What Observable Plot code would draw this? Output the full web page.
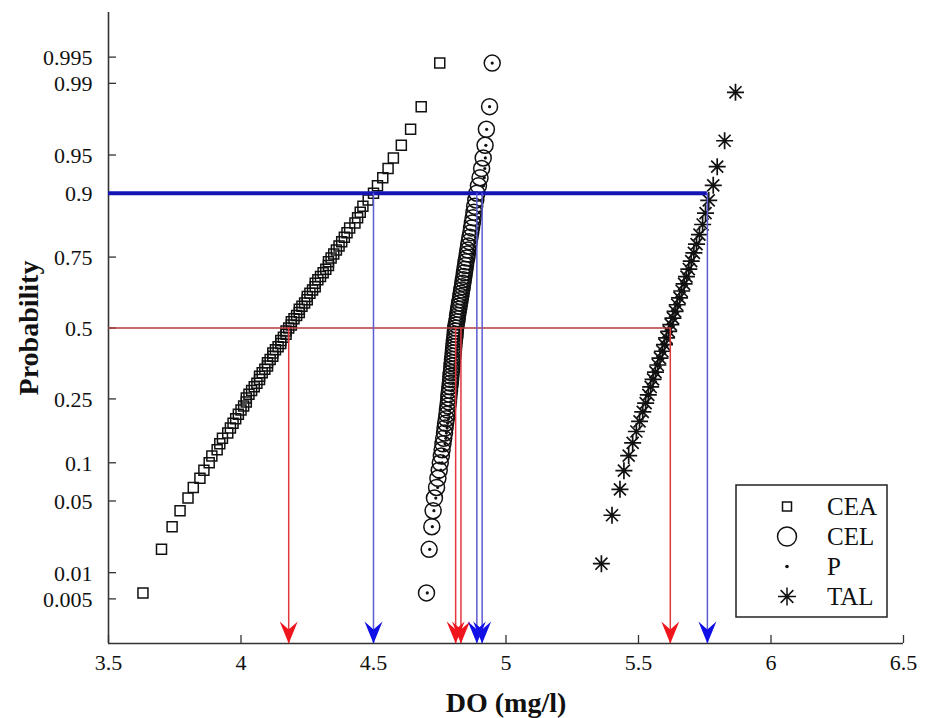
<!DOCTYPE html>
<html>
<head>
<meta charset="utf-8">
<script src="https://cdn.jsdelivr.net/npm/d3@7"></script>
<script src="https://cdn.jsdelivr.net/npm/@observablehq/plot@0.6"></script>
<style>
  html, body { margin: 0; padding: 0; background: #fff; }
  #chart { width: 930px; height: 718px; }
</style>
</head>
<body>
<div id="chart"></div>
<script>
// Dissolved oxygen (mg/l), sorted, per sampling group
const ceaValues = [
  3.63, 3.70, 3.74, 3.77, 3.80, 3.82, 3.845, 3.86, 3.88,
  3.89, 3.91, 3.92, 3.93, 3.95, 3.96, 3.97, 3.98, 3.99, 4.00,
  4.01, 4.02, 4.02, 4.03, 4.04, 4.05, 4.06, 4.07, 4.07, 4.08,
  4.09, 4.10, 4.10, 4.11, 4.12, 4.12, 4.13, 4.14, 4.15, 4.15,
  4.16, 4.17, 4.17, 4.18,
  4.19, 4.19, 4.20, 4.21, 4.22, 4.22, 4.23, 4.24, 4.25, 4.25,
  4.26, 4.27, 4.28, 4.28, 4.29, 4.30, 4.31, 4.32, 4.33, 4.33,
  4.34, 4.35, 4.36, 4.37, 4.38, 4.39, 4.40, 4.41, 4.43, 4.44,
  4.45, 4.46, 4.48,
  4.50, 4.515, 4.535, 4.555, 4.575, 4.605, 4.64, 4.68, 4.75
];
const celValues = [
  4.700, 4.710, 4.720, 4.725, 4.730, 4.738, 4.743, 4.748, 4.752, 4.756,
  4.759, 4.762, 4.765, 4.768, 4.770, 4.772, 4.775, 4.777, 4.779, 4.781,
  4.783, 4.784, 4.785, 4.787, 4.788, 4.790, 4.791, 4.792, 4.793, 4.795,
  4.796, 4.797, 4.798, 4.800, 4.801, 4.802, 4.803, 4.804, 4.805, 4.807,
  4.808, 4.809, 4.810,
  4.812, 4.814, 4.816, 4.817, 4.819, 4.821, 4.823, 4.825, 4.827, 4.829,
  4.831, 4.833, 4.835, 4.837, 4.839, 4.841, 4.843, 4.845, 4.847, 4.849,
  4.852, 4.854, 4.856, 4.859, 4.861, 4.864, 4.867, 4.870, 4.873, 4.876,
  4.879, 4.882, 4.886, 4.890, 4.896, 4.902, 4.908, 4.914, 4.921, 4.926,
  4.938, 4.948
];
const pValues = [
  4.703, 4.712, 4.722, 4.728, 4.735, 4.742, 4.748, 4.754, 4.759, 4.764,
  4.767, 4.770, 4.773, 4.775, 4.778, 4.780, 4.783, 4.785, 4.787, 4.789,
  4.791, 4.793, 4.795, 4.797, 4.799, 4.800, 4.802, 4.804, 4.806, 4.807,
  4.809, 4.811, 4.812, 4.814, 4.815, 4.817, 4.819, 4.820, 4.822, 4.823,
  4.825, 4.826, 4.828,
  4.830, 4.832, 4.834, 4.836, 4.838, 4.840, 4.842, 4.844, 4.846, 4.848,
  4.850, 4.852, 4.854, 4.856, 4.858, 4.860, 4.862, 4.865, 4.867, 4.869,
  4.872, 4.874, 4.877, 4.879, 4.882, 4.885, 4.887, 4.890, 4.894, 4.897,
  4.900, 4.904, 4.908, 4.912, 4.915, 4.918, 4.920, 4.922, 4.924, 4.927,
  4.938, 4.948
];
const talValues = [
  5.360, 5.400, 5.430, 5.445, 5.463, 5.478, 5.492, 5.504, 5.516, 5.527,
  5.537, 5.546, 5.555, 5.564, 5.573, 5.581, 5.590, 5.598, 5.606, 5.614,
  5.622, 5.630, 5.638, 5.646, 5.655, 5.663, 5.672, 5.681, 5.690, 5.699,
  5.709, 5.719, 5.730, 5.742, 5.753, 5.765, 5.782, 5.797, 5.825, 5.866
];

// Read-off levels: 50% (red) and 90% (blue) quantiles, in CEA, CEL, P, TAL order
const medianLevel = 0.5;
const medianDO = [4.18, 4.81, 4.83, 5.62];
const upperLevel = 0.9;
const upperDO = [4.50, 4.89, 4.91, 5.76];

// Axes
const xDomain = [3.5, 6.5];
const xTicks = [3.5, 4, 4.5, 5, 5.5, 6, 6.5];
const yTicks = [0.005, 0.01, 0.05, 0.1, 0.25, 0.5, 0.75, 0.9, 0.95, 0.99, 0.995];
const yTickLabels = ["0.005", "0.01", "0.05", "0.1", "0.25", "0.5", "0.75", "0.9", "0.95", "0.99", "0.995"];
const zDomain = [-3, 3];

const legendNames = ["CEA", "CEL", "P", "TAL"];

// Inverse standard normal CDF (Acklam's rational approximation)
function probit(p) {
  const a = [-3.969683028665376e+01, 2.209460984245205e+02, -2.759285104469687e+02, 1.383577518672690e+02, -3.066479806614716e+01, 2.506628277459239e+00];
  const b = [-5.447609879822406e+01, 1.615858368580409e+02, -1.556989798598866e+02, 6.680131188771972e+01, -1.328068155288572e+01];
  const c = [-7.784894002430293e-03, -3.223964580411365e-01, -2.400758277161838e+00, -2.549732539343734e+00, 4.374664141464968e+00, 2.938163982698783e+00];
  const d = [7.784695709041462e-03, 3.224671290700398e-01, 2.445134137142996e+00, 3.754408661907416e+00];
  const lo = 0.02425, hi = 1 - lo;
  if (p < lo) {
    const q = Math.sqrt(-2 * Math.log(p));
    return (((((c[0]*q+c[1])*q+c[2])*q+c[3])*q+c[4])*q+c[5]) / ((((d[0]*q+d[1])*q+d[2])*q+d[3])*q+1);
  }
  if (p > hi) {
    const q = Math.sqrt(-2 * Math.log(1 - p));
    return -(((((c[0]*q+c[1])*q+c[2])*q+c[3])*q+c[4])*q+c[5]) / ((((d[0]*q+d[1])*q+d[2])*q+d[3])*q+1);
  }
  const q = p - 0.5, r = q * q;
  return (((((a[0]*r+a[1])*r+a[2])*r+a[3])*r+a[4])*r+a[5])*q / (((((b[0]*r+b[1])*r+b[2])*r+b[3])*r+b[4])*r+1);
}

// Plotting positions (i - 0.5) / n for a sorted sample
const positions = (values) => values.map((v, i) => ({value: v, z: probit((i + 0.5) / values.length)}));

// Marker shapes
const squareSymbol = {draw(ctx, size) { const r = Math.sqrt(size / Math.PI); ctx.rect(-r, -r, 2 * r, 2 * r); }};
const starSymbol = {draw(ctx, size) {
  const r = Math.sqrt(size / Math.PI), d = r * Math.SQRT1_2;
  ctx.moveTo(0, -r); ctx.lineTo(0, r);
  ctx.moveTo(-r, 0); ctx.lineTo(r, 0);
  ctx.moveTo(-d, -d); ctx.lineTo(d, d);
  ctx.moveTo(-d, d); ctx.lineTo(d, -d);
}};
// Notched arrowhead with its tip at the origin, pointing down
const arrowHead = {draw(ctx) {
  ctx.moveTo(0, 0);
  ctx.lineTo(-9, -22);
  ctx.lineTo(0, -14);
  ctx.lineTo(9, -22);
  ctx.closePath();
}};

const yTickZ = yTicks.map(probit);

const width = 930, height = 718;
const margin = {top: 12, right: 27, bottom: 75, left: 108};
const tickLength = 8;
const frameWidth = width - margin.left - margin.right;
const frameHeight = height - margin.top - margin.bottom;

const axisColor = "#333";
const font = "Liberation Serif, Times New Roman, Times, serif";

const chart = Plot.plot({
  width,
  height,
  marginLeft: margin.left,
  marginRight: margin.right,
  marginTop: margin.top,
  marginBottom: margin.bottom,
  style: {fontFamily: font, background: "#fff", color: "#111"},
  x: {domain: xDomain, axis: null},
  y: {domain: zDomain, axis: null},
  marks: [
    // tick labels
    Plot.text(xTicks, {x: (d) => d, text: (d) => String(d), frameAnchor: "bottom", textAnchor: "middle",
      dy: 26, fontSize: 22, fontFamily: font, fill: "#111"}),
    Plot.text(yTickZ, {y: (d) => d, text: (d, i) => yTickLabels[i], frameAnchor: "left", textAnchor: "end",
      dx: -16, dy: 1, fontSize: 22, fontFamily: font, fill: "#111"}),
    // inward tick marks
    Plot.tickX(xTicks, {x: (d) => d, insetTop: frameHeight - tickLength, stroke: axisColor, strokeWidth: 1.3}),
    Plot.tickY(yTickZ, {y: (d) => d, insetRight: frameWidth - tickLength, stroke: axisColor, strokeWidth: 1.3}),
    // axis lines
    Plot.ruleX([xDomain[0]], {stroke: axisColor, strokeWidth: 1.6}),
    Plot.ruleY([zDomain[0]], {stroke: axisColor, strokeWidth: 1.6}),

    Plot.dot(positions(ceaValues), {x: "value", y: "z", symbol: squareSymbol, r: 5, stroke: "#111", strokeWidth: 1.5, fill: "none"}),
    Plot.dot(positions(celValues), {x: "value", y: "z", symbol: "circle", r: 8, stroke: "#111", strokeWidth: 1.5, fill: "none"}),
    Plot.dot(positions(pValues), {x: "value", y: "z", symbol: "circle", r: 1.6, fill: "#111", stroke: "none"}),
    Plot.dot(positions(talValues), {x: "value", y: "z", symbol: starSymbol, r: 8.5, stroke: "#111", strokeWidth: 1.7, fill: "none"}),

    // 50% read-off
    Plot.ruleY([probit(medianLevel)], {x1: xDomain[0], x2: d3.max(medianDO), stroke: "#b33a3a", strokeWidth: 1.5}),
    Plot.ruleX(medianDO, {x: (d) => d, y1: probit(medianLevel), y2: zDomain[0], stroke: "#e2383c", strokeWidth: 1.5}),
    Plot.dot(medianDO, {x: (d) => d, frameAnchor: "bottom", symbol: arrowHead, r: 10, fill: "#f0141c", stroke: "none"}),

    // 90% read-off
    Plot.ruleY([probit(upperLevel)], {x1: xDomain[0], x2: d3.max(upperDO), stroke: "#1414b4", strokeWidth: 4}),
    Plot.ruleX(upperDO, {x: (d) => d, y1: probit(upperLevel), y2: zDomain[0], stroke: "#5c5cd2", strokeWidth: 1.5}),
    Plot.dot(upperDO, {x: (d) => d, frameAnchor: "bottom", symbol: arrowHead, r: 10, fill: "#1010e6", stroke: "none"}),

    // Axis titles
    Plot.text(["DO (mg/l)"], {text: (d) => d, frameAnchor: "bottom", textAnchor: "middle", dy: 68, fontSize: 28, fontWeight: "bold", fontFamily: font, fill: "#111"}),
    Plot.text(["Probability"], {text: (d) => d, frameAnchor: "left", textAnchor: "middle", dx: -79, rotate: -90, fontSize: 28, fontWeight: "bold", fontFamily: font, fill: "#111"})
  ]
});

document.getElementById("chart").append(chart);

// Legend box in the lower-right corner of the plotting area
const legendShapes = [
  {symbol: squareSymbol, r: 4.5, fill: "none", stroke: "#111"},
  {symbol: d3.symbolCircle, r: 9.5, fill: "none", stroke: "#111"},
  {symbol: d3.symbolCircle, r: 1.8, fill: "#111", stroke: "none"},
  {symbol: starSymbol, r: 9, fill: "none", stroke: "#111"}
];
const legend = d3.select(chart).append("g")
  .attr("transform", "translate(736,485)")
  .attr("font-family", font)
  .attr("text-anchor", "start");
legend.append("rect")
  .attr("width", 151).attr("height", 132)
  .attr("fill", "#fff").attr("stroke", "#222").attr("stroke-width", 1.5);
legendNames.forEach((name, i) => {
  const row = legend.append("g").attr("transform", `translate(0,${21.5 + i * 30})`);
  const s = legendShapes[i];
  row.append("path")
    .attr("transform", "translate(51,0)")
    .attr("d", d3.symbol(s.symbol, Math.PI * s.r * s.r)())
    .attr("fill", s.fill).attr("stroke", s.stroke).attr("stroke-width", 1.5);
  row.append("text")
    .attr("x", 91).attr("dy", "0.35em")
    .attr("font-size", 25).attr("fill", "#111")
    .text(name);
});
</script>
</body>
</html>
